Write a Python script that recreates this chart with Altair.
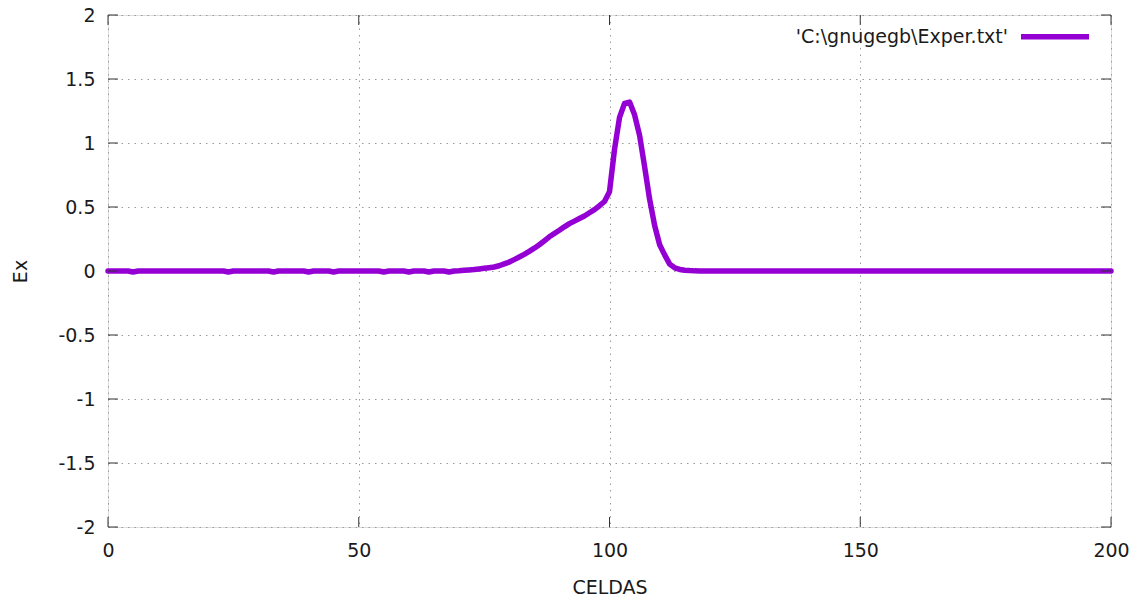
import altair as alt
import pandas as pd

# ---- data ----
cells = list(range(0, 201))
ex_0_69 = [0, 0, 0, 0, 0, -0.008, 0, 0, 0, 0,
           0, 0, 0, 0, 0, 0, 0, 0, 0, 0,
           0, 0, 0, 0, -0.008, 0, 0, 0, 0, 0,
           0, 0, 0, -0.008, 0, 0, 0, 0, 0, 0,
           -0.008, 0, 0, 0, 0, -0.008, 0, 0, 0, 0,
           0, 0, 0, 0, 0, -0.008, 0, 0, 0, 0,
           -0.008, 0, 0, 0, -0.008, 0, 0, 0, -0.008, 0]
ex_70_119 = [0.002, 0.005, 0.008, 0.011, 0.016, 0.021, 0.026, 0.031, 0.041, 0.056,
             0.07, 0.089, 0.109, 0.13, 0.154, 0.178, 0.205, 0.236, 0.267, 0.293,
             0.318, 0.345, 0.37, 0.39, 0.41, 0.43, 0.455, 0.48, 0.51, 0.543,
             0.62, 0.95, 1.2, 1.31, 1.32, 1.22, 1.06, 0.815, 0.56, 0.355,
             0.205, 0.126, 0.054, 0.025, 0.012, 0.006, 0.003, 0.001, 0, 0]
ex_120_200 = [0, 0, 0, 0, 0, 0, 0, 0, 0, 0,
              0, 0, 0, 0, 0, 0, 0, 0, 0, 0,
              0, 0, 0, 0, 0, 0, 0, 0, 0, 0,
              0, 0, 0, 0, 0, 0, 0, 0, 0, 0,
              0, 0, 0, 0, 0, 0, 0, 0, 0, 0,
              0, 0, 0, 0, 0, 0, 0, 0, 0, 0,
              0, 0, 0, 0, 0, 0, 0, 0, 0, 0,
              0, 0, 0, 0, 0, 0, 0, 0, 0, 0,
              0]
ex_values = ex_0_69 + ex_70_119 + ex_120_200

x_ticks = [0, 50, 100, 150, 200]
y_ticks = [-2, -1.5, -1, -0.5, 0, 0.5, 1, 1.5, 2]
legend_label = "'C:\\gnugegb\\Exper.txt'"

df = pd.DataFrame({"CELDAS": cells, "Ex": ex_values})

W, H = 1003, 512
FONT = "DejaVu Sans"
FS = 19
TXT = "#1a1a1a"
LINE = "#9400D3"

x_scale = alt.Scale(domain=[0, 200], nice=False, zero=False)
y_scale = alt.Scale(domain=[-2, 2], nice=False, zero=False)

x_axis = alt.Axis(values=x_ticks, ticks=False, domain=False, grid=True,
                  gridDash=[1.5, 5], gridColor="#9a9a9a", gridWidth=1,
                  labelFont=FONT, labelFontSize=FS, labelColor=TXT, labelPadding=14,
                  labelFlush=False, labelExpr="'' + datum.value",
                  title="CELDAS", titleFont=FONT, titleFontSize=FS,
                  titleFontWeight="normal", titleColor=TXT, titlePadding=18)
y_axis = alt.Axis(values=y_ticks, ticks=False, domain=False, grid=True,
                  gridDash=[1.5, 5], gridColor="#9a9a9a", gridWidth=1,
                  labelFont=FONT, labelFontSize=FS, labelColor=TXT, labelPadding=13,
                  labelFlush=False, labelExpr="'' + datum.value",
                  title="Ex", titleFont=FONT, titleFontSize=FS,
                  titleFontWeight="normal", titleColor=TXT,
                  titleX=-88, titleY=H / 2, titleAngle=270,
                  titleAlign="center", titleBaseline="middle")

line = alt.Chart(df).mark_line(color=LINE, strokeWidth=5.5, strokeJoin="round",
                               strokeCap="round").encode(
    x=alt.X("CELDAS:Q", scale=x_scale, axis=x_axis),
    y=alt.Y("Ex:Q", scale=y_scale, axis=y_axis),
)

yt = pd.DataFrame({"v": y_ticks})
xt = pd.DataFrame({"v": x_ticks})
tick_color = "#333333"
ytick_left = alt.Chart(yt).mark_rule(color=tick_color, strokeWidth=1).encode(
    y=alt.Y("v:Q", scale=y_scale), x=alt.value(0), x2=alt.value(10))
ytick_right = alt.Chart(yt).mark_rule(color=tick_color, strokeWidth=1).encode(
    y=alt.Y("v:Q", scale=y_scale), x=alt.value(W - 10), x2=alt.value(W))
xtick_bottom = alt.Chart(xt).mark_rule(color=tick_color, strokeWidth=1).encode(
    x=alt.X("v:Q", scale=x_scale), y=alt.value(H), y2=alt.value(H - 10))
xtick_top = alt.Chart(xt).mark_rule(color=tick_color, strokeWidth=1).encode(
    x=alt.X("v:Q", scale=x_scale), y=alt.value(0), y2=alt.value(10))

leg_df = pd.DataFrame({"label": [legend_label]})
leg_text = alt.Chart(leg_df).mark_text(align="right", baseline="middle", font=FONT,
                                       fontSize=FS, color=TXT).encode(
    text="label:N", x=alt.value(900), y=alt.value(21.5))
leg_line = alt.Chart(leg_df).mark_rule(color=LINE, strokeWidth=5.5).encode(
    x=alt.value(913), x2=alt.value(981), y=alt.value(21.7))

chart = alt.layer(line, ytick_left, ytick_right, xtick_bottom, xtick_top,
                  leg_text, leg_line).properties(
    width=W, height=H,
    autosize=alt.AutoSizeParams(type="none"),
    padding={"left": 100, "top": 7, "right": 19, "bottom": 69},
).configure_view(stroke="#333333", strokeWidth=1).configure(background="white")

chart.save("out.html", embed_options={"renderer": "svg", "actions": False})
